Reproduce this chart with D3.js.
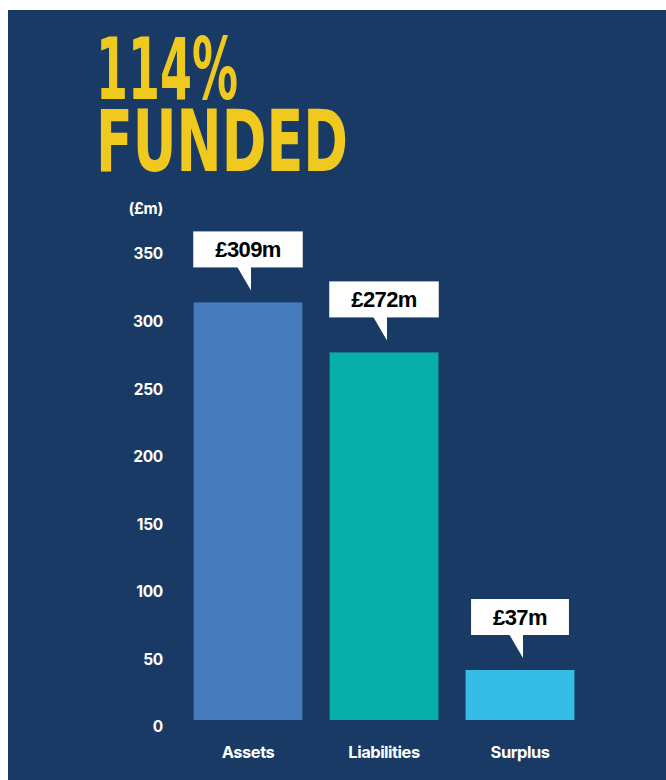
<!DOCTYPE html>
<html>
<head>
<meta charset="utf-8">
<script src="https://cdn.jsdelivr.net/npm/d3@7"></script>
<style>
  body { margin: 0; background: #fff; }
  svg { display: block; }
</style>
</head>
<body>
<div id="chart"></div>
<script>
// values
const categories = ['Assets', 'Liabilities', 'Surplus'];
const values = [309, 272, 37];
const labels = ['£309m', '£272m', '£37m'];
const yTicks = [0, 50, 100, 150, 200, 250, 300, 350];
const titleLines = ['114%', 'FUNDED'];
const unitLabel = '(£m)';

const colors = {
  Assets: '#467bbd',
  Liabilities: '#06afa7',
  Surplus: '#36bde7',
};

const width = 666,
  height = 780;

const svg = d3
  .select('#chart')
  .append('svg')
  .attr('width', width)
  .attr('height', height);

// navy panel
svg
  .append('rect')
  .attr('x', 8)
  .attr('y', 10)
  .attr('width', width - 8)
  .attr('height', height - 10)
  .attr('fill', '#183a65');

// big headline
const titleFont = "'DejaVu Sans Condensed', 'Liberation Sans', Arial, sans-serif";
const titleLens = [142, 252];
titleLines.forEach((t, i) => {
  svg
    .append('text')
    .attr('x', 96)
    .attr('y', 99 + i * 72)
    .attr('font-family', titleFont)
    .attr('font-weight', 'bold')
    .attr('font-size', 86)
    .attr('fill', '#efc91e')
    .attr('textLength', titleLens[i])
    .attr('lengthAdjust', 'spacingAndGlyphs')
    .text(t);
});

const y = d3.scaleLinear().domain([0, 350]).range([720, 247]);
const x = d3
  .scaleBand()
  .domain(categories)
  .range([180, 588])
  .paddingInner(0.2)
  .paddingOuter(0.1);

const axisFont = "Inter, 'Open Sans', sans-serif";

// y axis, labels only
const yAxis = (g) =>
  g
    .attr('transform', 'translate(163,0)')
    .call(d3.axisLeft(y).tickValues(yTicks).tickSize(0).tickPadding(0))
    .call((g) => g.select('.domain').remove())
    .call((g) =>
      g
        .selectAll('.tick text')
        .attr('y', 7)
        .attr('fill', '#fff')
        .attr('font-family', axisFont)
        .attr('font-weight', 700)
        .attr('font-size', 15.5)
        .attr('letter-spacing', '-0.3px')
    );
svg.append('g').call(yAxis);

svg
  .append('text')
  .attr('x', 163)
  .attr('y', 209)
  .attr('dy', '0.35em')
  .attr('text-anchor', 'end')
  .attr('fill', '#fff')
  .attr('font-family', axisFont)
  .attr('font-weight', 700)
  .attr('font-size', 15.5)
  .attr('letter-spacing', '-0.3px')
  .text(unitLabel);

// bars
svg
  .append('g')
  .selectAll('rect')
  .data(categories)
  .join('rect')
  .attr('x', (d) => x(d))
  .attr('y', (d, i) => y(values[i]))
  .attr('width', x.bandwidth())
  .attr('height', (d, i) => y(0) - y(values[i]))
  .attr('fill', (d) => colors[d]);

// x axis labels
const xAxis = (g) =>
  g
    .attr('transform', 'translate(0,752)')
    .call(d3.axisBottom(x).tickSize(0).tickPadding(0))
    .call((g) => g.select('.domain').remove())
    .call((g) =>
      g
        .selectAll('.tick text')
        .attr('dy', '0.35em')
        .attr('fill', '#fff')
        .attr('font-family', axisFont)
        .attr('font-weight', 700)
        .attr('font-size', 16.5)
        .attr('letter-spacing', '-0.5px')
    );
svg.append('g').call(xAxis);

// speech bubble value labels
const bubbles = svg
  .append('g')
  .selectAll('g')
  .data(categories)
  .join('g')
  .attr('transform', (d, i) => {
    const cx = x(d) + x.bandwidth() / 2;
    return `translate(${cx},${y(values[i]) - 12})`;
  });

const boxH = 36,
  tailH = 23;

bubbles.each(function (d, i) {
  const g = d3.select(this);
  const box = g.append('rect').attr('fill', '#fff');
  g.append('path')
    .attr('d', `M-11,${-tailH - 1}L3,${-tailH - 1}L3,0Z`)
    .attr('fill', '#fff');
  const txt = g
    .append('text')
    .attr('x', 0)
    .attr('y', -tailH - boxH / 2)
    .attr('dy', '0.36em')
    .attr('text-anchor', 'middle')
    .attr('font-family', "'Liberation Sans', Arial, sans-serif")
    .attr('font-weight', 'bold')
    .attr('font-size', 22)
    .attr('letter-spacing', '-0.6px')
    .attr('fill', '#000')
    .text(labels[i]);
  const w = txt.node().getComputedTextLength() + 44;
  box
    .attr('x', -w / 2)
    .attr('y', -tailH - boxH)
    .attr('width', w)
    .attr('height', boxH);
});
</script>
</body>
</html>
